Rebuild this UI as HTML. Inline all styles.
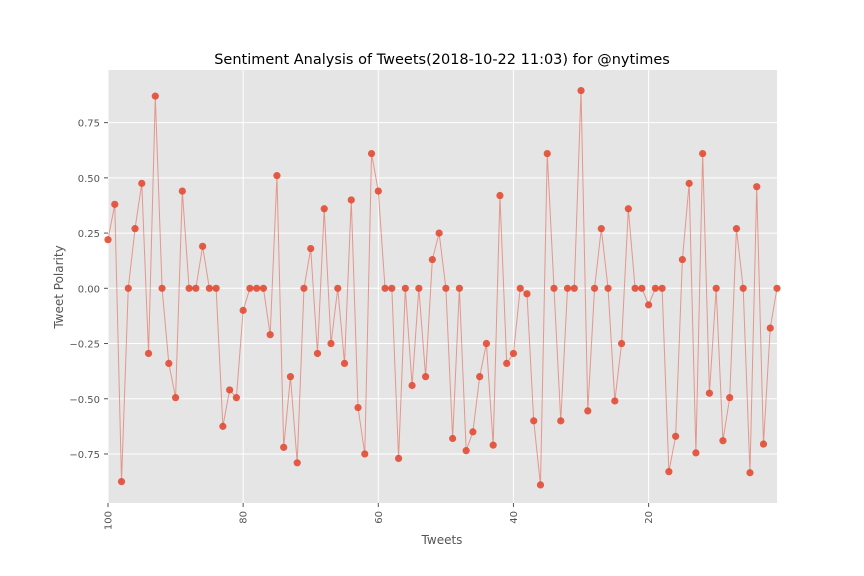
<!DOCTYPE html>
<html><head><meta charset="utf-8">
<style>
body{margin:0;background:#fff;}
svg{display:block;font-family:"DejaVu Sans","Liberation Sans",sans-serif;}
</style></head>
<body>
<svg id="chart" width="864" height="576">
<rect x="108" y="70" width="669" height="433" fill="#e5e5e5"/>
<g id="grid"></g>
<g id="axes"></g>
<g id="series"></g>
<text x="442" y="64" text-anchor="middle" font-size="14.5" fill="#000">Sentiment Analysis of Tweets(2018-10-22 11:03) for @nytimes</text>
<text x="442" y="544" text-anchor="middle" font-size="12" fill="#555">Tweets</text>
<text transform="translate(63,287) rotate(-90)" text-anchor="middle" font-size="12" fill="#555">Tweet Polarity</text>
</svg>
<script>
const tweetIndex = [];
for (let i = 100; i >= 1; i--) tweetIndex.push(i);
const polarity = [0.22,0.38,-0.875,0,0.27,0.475,-0.295,0.87,0,-0.34,
-0.495,0.44,0,0,0.19,0,0,-0.625,-0.46,-0.495,
-0.10,0,0,0,-0.21,0.51,-0.72,-0.40,-0.79,0,
0.18,-0.295,0.36,-0.25,0,-0.34,0.40,-0.54,-0.75,0.61,
0.44,0,0,-0.77,0,-0.44,0,-0.40,0.13,0.25,
0,-0.68,0,-0.735,-0.65,-0.40,-0.25,-0.71,0.42,-0.34,
-0.295,0,-0.025,-0.60,-0.89,0.61,0,-0.60,0,0,
0.895,-0.555,0,0.27,0,-0.51,-0.25,0.36,0,0,
-0.075,0,0,-0.83,-0.67,0.13,0.475,-0.745,0.61,-0.475,
0,-0.69,-0.495,0.27,0,-0.835,0.46,-0.705,-0.18,0];
const yTicks = [-0.75,-0.5,-0.25,0,0.25,0.5,0.75];
const yTickLabels = ["\u22120.75","\u22120.50","\u22120.25","0.00","0.25","0.50","0.75"];
const xTicks = [100,80,60,40,20];
const xTickLabels = ["100","80","60","40","20"];

const NS = "http://www.w3.org/2000/svg";
const X0=108, X1=777, Y0=70, Y1=503;
const xMin=100, xMax=1;
function xs(v){return X0+(v-xMin)/(xMax-xMin)*(X1-X0);}
function ys(v){return 288.3 - v*220.9;}
function mk(tag, attrs, parent){const e=document.createElementNS(NS,tag);for(const k in attrs)e.setAttribute(k,attrs[k]);parent.appendChild(e);return e;}
const grid=document.getElementById('grid'), axes=document.getElementById('axes'), series=document.getElementById('series');

yTicks.forEach((t,i)=>{
  const y=ys(t);
  const g=mk('line',{x1:X0,x2:X1,y1:y,y2:y,stroke:'#fff','stroke-width':1},grid);
  
  
  const tk=mk('line',{x1:X0-4,x2:X0,y1:y,y2:y,stroke:'#555','stroke-width':1},axes);
  
  
  const tx=mk('text',{x:X0-8,y:y+4,'text-anchor':'end','font-size':'10','fill':'#555'},axes);
  tx.textContent=yTickLabels[i];
  
  
});
xTicks.forEach((t,i)=>{
  const x=xs(t);
  const g=mk('line',{x1:x,x2:x,y1:Y0,y2:Y1,stroke:'#fff','stroke-width':1},grid);
  
  
  const tk=mk('line',{x1:x,x2:x,y1:Y1,y2:Y1+4,stroke:'#555','stroke-width':1},axes);
  
  
  const tx=mk('text',{transform:`translate(${x+3.5},${Y1+8}) rotate(-90)`,'text-anchor':'end','font-size':'10','fill':'#555'},axes);
  tx.textContent=xTickLabels[i];
  
  
});
const pts=tweetIndex.map((t,i)=>xs(t).toFixed(2)+','+ys(polarity[i]).toFixed(2)).join(' ');
const line=mk('polyline',{points:pts,fill:'none',stroke:'#e24a33','stroke-opacity':'0.5','stroke-width':1},series);


tweetIndex.forEach((t,i)=>{
  const c=mk('circle',{cx:xs(t),cy:ys(polarity[i]),r:3.6,fill:'#e24a33','fill-opacity':'0.9'},series);
  
  
});
</script>
</body></html>
